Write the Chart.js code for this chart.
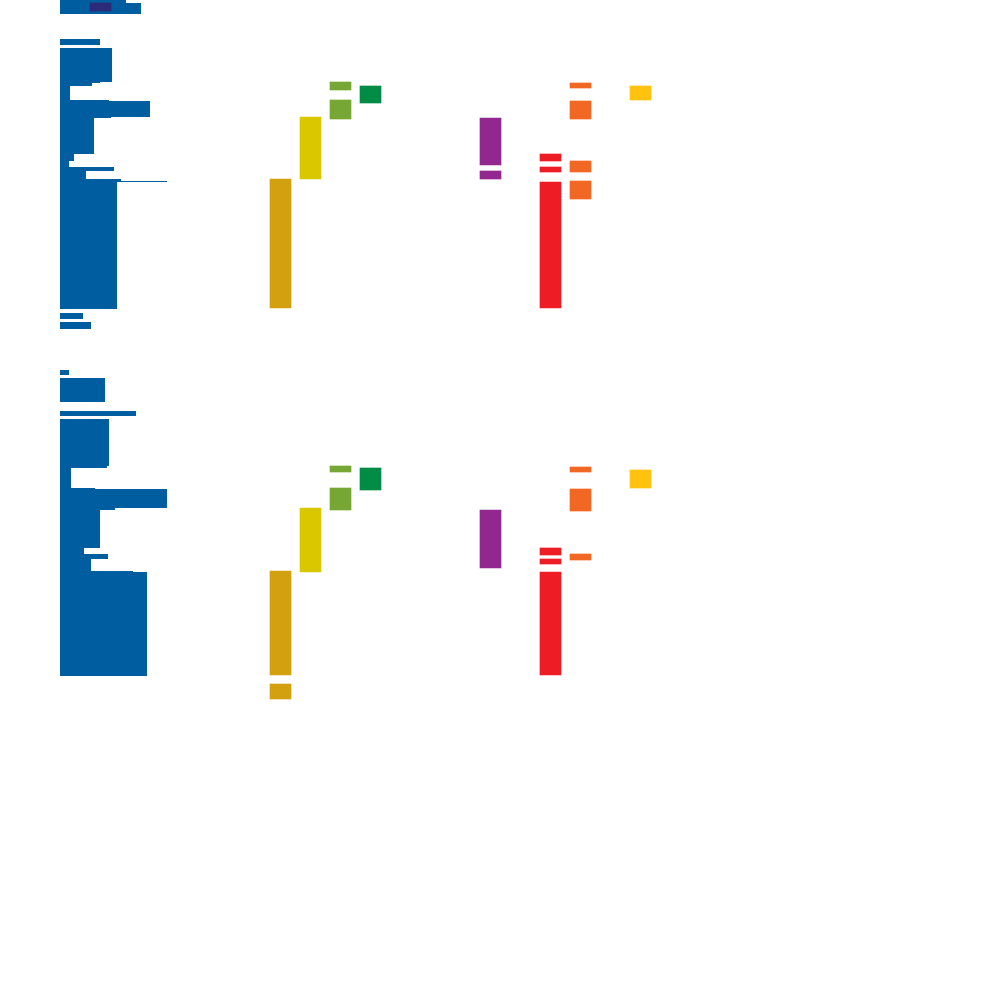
<!DOCTYPE html>
<html>
<head>
<meta charset="utf-8">
<script src="https://cdn.jsdelivr.net/npm/chart.js@4/dist/chart.umd.min.js"></script>
<style>
  html, body { margin: 0; padding: 0; background: #ffffff; }
  #wrap { position: relative; width: 1000px; height: 1000px; }
</style>
</head>
<body>
<div id="wrap"><canvas id="c"></canvas></div>
<script>
// ---- data (x and y in chart units; 1 unit = one grid step) ----
// blue stepped area: each row starts at blueRowStarts[i] and extends to blueRowExtents[i]
const blueRowStarts  = [0, 0.3, 1.4, 3.9, 4.5, 4.8, 8.2, 8.3, 8.6, 10.0, 10.1, 11.7, 11.8, 15.4, 16.1, 16.7, 17.1, 17.9, 18.1, 18.2, 30.9, 31.3, 31.9, 32.2, 32.9,
                        37.0, 37.5, 37.8, 40.2, 41.1, 41.6, 41.9, 46.6, 46.8, 48.8, 48.9, 50.8, 51.0, 54.8, 55.4, 55.9, 57.1, 57.2, 67.6];
const blueRowExtents = [6.6, 8.1, 0, 4.0, 0, 5.2, 4.0, 3.2, 1.0, 4.9, 9.0, 5.1, 3.4, 1.4, 0.9, 5.4, 2.6, 6.1, 10.7, 5.7, 0, 2.3, 0, 3.1, 0,
                        0.9, 0, 4.5, 0, 7.6, 0, 4.9, 4.7, 1.1, 3.5, 10.7, 5.5, 4.0, 2.4, 4.8, 3.1, 7.3, 8.7, 0];

// vertical column segments [start, end]
const navyColumn   = 4.05;
const navySpans    = [[0.3, 1.1]];
const columnPositions = [22.05, 25.05, 28.05, 31.05, 43.05, 49.05, 52.05, 58.05];
const goldSpans    = [[17.9, 30.8], [57.1, 67.5], [68.4, 69.9]];
const yellowSpans  = [[11.7, 17.9], [50.8, 57.2]];
const oliveSpans   = [[8.2, 9.0], [10.0, 11.9], [46.6, 47.2], [48.8, 51.0]];
const greenSpans   = [[8.6, 10.3], [46.8, 49.0]];
const purpleSpans  = [[11.8, 16.5], [17.1, 17.9], [51.0, 56.8]];
const redSpans     = [[15.4, 16.1], [16.7, 17.2], [18.2, 30.8], [54.8, 55.5], [55.9, 56.4], [57.2, 67.5]];
const orangeSpans  = [[8.3, 8.8], [10.1, 11.9], [16.1, 17.2], [18.1, 19.9], [46.7, 47.2], [48.9, 51.1], [55.4, 56.0]];
const amberSpans   = [[8.6, 10.0], [47.0, 48.8]];

// ---- styles ----
const columnSeries = [
  { spans: goldSpans,   color: '#D3A00F' },
  { spans: yellowSpans, color: '#D9C800' },
  { spans: oliveSpans,  color: '#76A633' },
  { spans: greenSpans,  color: '#008C45' },
  { spans: purpleSpans, color: '#92278F' },
  { spans: redSpans,    color: '#EE1C25' },
  { spans: orangeSpans, color: '#F26724' },
  { spans: amberSpans,  color: '#FFC20E' }
];

const datasets = [];

datasets.push({
  type: 'line',
  indexAxis: 'y',
  data: blueRowStarts.map((y, i) => ({ x: blueRowExtents[i], y: y })),
  stepped: 'after',
  fill: 'origin',
  backgroundColor: '#005DA0',
  borderColor: 'rgba(0,0,0,0)',
  borderWidth: 0,
  pointRadius: 0,
  order: 3
});

datasets.push({
  type: 'bar',
  indexAxis: 'x',
  data: navySpans.map(s => ({ x: navyColumn, y: s })),
  backgroundColor: '#2E2A7A',
  borderWidth: 0,
  barThickness: 21,
  grouped: false,
  order: 1
});

columnSeries.forEach((s, k) => {
  datasets.push({
    type: 'bar',
    indexAxis: 'x',
    data: s.spans.map(sp => ({ x: columnPositions[k], y: sp })),
    backgroundColor: s.color,
    borderWidth: 0,
    barThickness: 21,
    grouped: false,
    order: 2
  });
});

new Chart(document.getElementById('c'), {
  type: 'bar',
  data: { datasets: datasets },
  options: {
    responsive: true,
    maintainAspectRatio: false,
    animation: false,
    events: [],
    layout: { padding: 0 },
    plugins: { legend: { display: false }, tooltip: { enabled: false }, title: { display: false } },
    scales: {
      x: { type: 'linear', min: -6, max: 94, offset: false, display: false },
      y: { type: 'linear', min: 0, max: 100, reverse: true, offset: false, display: false }
    }
  }
});
</script>
</body>
</html>
